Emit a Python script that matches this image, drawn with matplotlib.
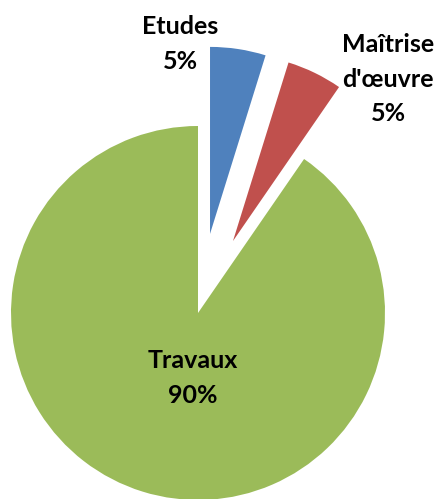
import matplotlib
matplotlib.use("Agg")
import matplotlib.pyplot as plt

# Données du graphique
noms = ["Etudes", "Maîtrise\nd'œuvre", "Travaux"]
valeurs = [4.8, 4.8, 90.4]
couleurs = ["#4F81BD", "#C0504D", "#9BBB59"]
eclatement = [80, 80, 0]

fig = plt.figure(figsize=(4.45, 4.99), dpi=100)
ax = fig.add_axes([0, 0, 1, 1])

ax.pie(valeurs, colors=couleurs, explode=eclatement, startangle=90,
       counterclock=False, center=(198, 186), radius=187,
       wedgeprops=dict(linewidth=0))

ax.set_xlim(0, 445)
ax.set_ylim(0, 499)
ax.set_aspect("equal")
ax.axis("off")

# Étiquettes (nom + pourcentage)
total = sum(valeurs)
positions = [(180, 455), (388, 420), (193, 121)]
for nom, v, (px, py) in zip(noms, valeurs, positions):
    ax.text(px, py, f"{nom}\n{v / total * 100:.0f}%", ha="center", va="center",
            fontsize=18, fontweight="bold", family="Lato", linespacing=1.6)

fig.savefig("out.png", dpi=100)
